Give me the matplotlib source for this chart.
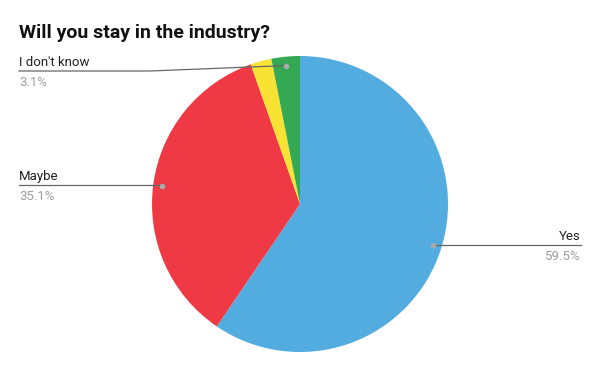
import numpy as np
import matplotlib.pyplot as plt

plt.rcParams['font.family'] = ['Roboto', 'DejaVu Sans']

labels = ['Yes', 'Maybe', '', "I don't know"]
shares = [59.5, 35.1, 2.3, 3.1]
colors = ['#52ace0', '#ef3a45', '#f8e234', '#35a853']

W, H = 600, 371
cx, cy, r = 300, 204, 148

fig = plt.figure(figsize=(6, 3.71), dpi=100)
ax = fig.add_axes([0, 0, 1, 1])

ax.pie(shares, colors=colors, startangle=90, counterclock=False,
       center=(cx, H - cy), radius=r, wedgeprops=dict(linewidth=0))

# pie resets the limits, so set them afterwards
ax.set_xlim(0, W)
ax.set_ylim(0, H)
ax.set_aspect('equal')
ax.axis('off')

fig.text(19 / W, 1 - 38 / H, 'Will you stay in the industry?', fontsize=14,
         fontweight='bold', color='#111111', va='baseline')

# anchor points at mid angle of each slice
total = sum(shares)
cum = np.cumsum([0] + shares)
anchors = {}
for i, lab in enumerate(labels):
    mid = (cum[i] + cum[i + 1]) / 2 / total * 360
    ang = np.deg2rad(90 - mid)
    anchors[lab] = (cx + 0.94 * r * np.cos(ang), H - cy + 0.94 * r * np.sin(ang))

line_kw = dict(color='#666666', linewidth=0.9, zorder=3)
dot_kw = dict(color='#aaaaaa', markersize=3, zorder=4)

def put_label(name, pct, x0, x1, y, ha, kink=None):
    yy = H - y
    px, py = anchors[name]
    if kink is None:
        ax.plot([x0, x1], [yy, yy], **line_kw)
    else:
        ax.plot([x0, kink, px], [yy, yy, py], **line_kw)
    ax.plot(px, py, 'o', **dot_kw)
    tx = x0 if ha == 'left' else x1
    ax.text(tx, yy + 2, name, ha=ha, va='bottom', fontsize=9.5, color='#222222')
    ax.text(tx, yy - 5, pct, ha=ha, va='top', fontsize=9.5, color='#9e9e9e')

put_label("I don't know", '3.1%', 19, None, 71, 'left', kink=150)
put_label('Maybe', '35.1%', 19, anchors['Maybe'][0], 185, 'left')
put_label('Yes', '59.5%', anchors['Yes'][0], 581, 245, 'right')

fig.savefig('out.png', dpi=100)
